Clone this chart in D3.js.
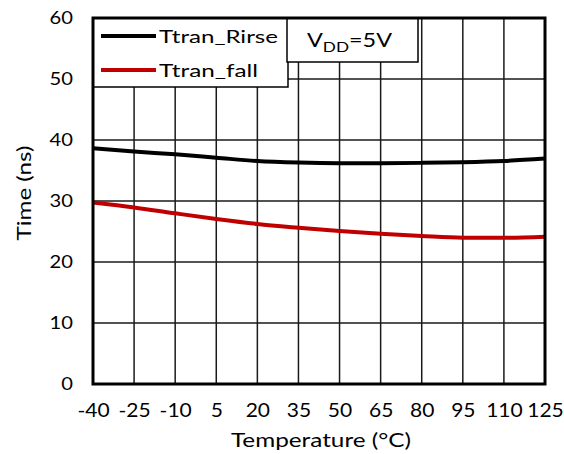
<!DOCTYPE html>
<html><head><meta charset="utf-8">
<script src="https://cdn.jsdelivr.net/npm/d3@7"></script>
<style>body{margin:0;background:#fff}text{font-family:Lato,sans-serif;fill:#000}</style>
</head><body><svg id="c" width="564" height="454"></svg>
<script>
const temps = [-40,-25,-10,5,20,35,50,65,80,95,110,125];
const rise = [38.65,38.1,37.65,37.1,36.55,36.3,36.2,36.2,36.25,36.35,36.55,36.95];
const fall = [29.75,28.95,27.98,27.05,26.23,25.62,25.08,24.64,24.26,23.98,23.98,24.15];
const yTicks = [0,10,20,30,40,50,60];
const seriesNames = ["Ttran_Rirse","Ttran_fall"];
const colors = ["#000000","#c00000"];

const svg = d3.select("#c");
const L=93,R=545,T=18,B=384;
const x = d3.scaleLinear().domain([-40,125]).range([L,R]);
const y = d3.scaleLinear().domain([0,60]).range([B,T]);
const FW = 400;

function stretch(sel, k){
  sel.each(function(){
    const w = this.getComputedTextLength();
    d3.select(this).attr("textLength", w*k).attr("lengthAdjust","spacingAndGlyphs");
  });
}
function fitTo(sel, target){
  sel.attr("textLength", target).attr("lengthAdjust","spacingAndGlyphs");
}

// grid
svg.append("g").selectAll("line").data(temps.slice(1,-1)).join("line")
  .attr("x1",d=>x(d)).attr("x2",d=>x(d)).attr("y1",T).attr("y2",B)
  .attr("stroke","#1a1a1a").attr("stroke-width",1.5);
svg.append("g").selectAll("line").data(yTicks.slice(1,-1)).join("line")
  .attr("y1",d=>y(d)).attr("y2",d=>y(d)).attr("x1",L).attr("x2",R)
  .attr("stroke","#1a1a1a").attr("stroke-width",1.5);

// axes labels
const xa = d3.axisBottom(x).tickValues(temps).tickSize(0).tickPadding(19).tickFormat(d=>String(d));
const gx = svg.append("g").attr("transform",`translate(0,${B})`).call(xa);
gx.select(".domain").remove();
gx.selectAll("text").attr("font-family","Lato").attr("font-weight",FW).attr("font-size",20).attr("fill","#000");
stretch(gx.selectAll("text"), 1.05);
const ya = d3.axisLeft(y).tickValues(yTicks).tickSize(0).tickPadding(20).tickFormat(d=>String(d));
const gy = svg.append("g").attr("transform",`translate(${L},0)`).call(ya);
gy.select(".domain").remove();
gy.selectAll("text").attr("font-family","Lato").attr("font-weight",FW).attr("font-size",18).attr("fill","#000");
stretch(gy.selectAll("text"), 1.12);

// lines
const line = d3.line().x((d,i)=>x(temps[i])).y(d=>y(d)).curve(d3.curveMonotoneX);
[rise,fall].forEach((s,i)=>{
  svg.append("path").attr("d",line(s)).attr("fill","none")
    .attr("stroke",colors[i]).attr("stroke-width",4);
});

// legend
svg.append("rect").attr("x",L).attr("y",T).attr("width",195).attr("height",69)
  .attr("fill","#fff").attr("stroke","#000").attr("stroke-width",1.5);
const legW = [119, 99];
seriesNames.forEach((n,i)=>{
  const yy = 36 + i*34;
  svg.append("line").attr("x1",101).attr("x2",156).attr("y1",yy).attr("y2",yy)
    .attr("stroke",colors[i]).attr("stroke-width",4);
  const t = svg.append("text").attr("x",159).attr("y",yy+7).attr("font-size",18).attr("font-weight",FW).text(n);
  fitTo(t, legW[i]);
});
// VDD box
svg.append("rect").attr("x",287).attr("y",T).attr("width",131).attr("height",44)
  .attr("fill","#fff").attr("stroke","#000").attr("stroke-width",1.5);
const vt = svg.append("text").attr("x",307).attr("y",47).attr("font-size",19).attr("font-weight",FW);
vt.append("tspan").text("V");
vt.append("tspan").attr("dy",5).attr("font-size",14).text("DD");
vt.append("tspan").attr("dy",-5).text("=5V");
{
  const w = vt.node().getComputedTextLength();
  vt.attr("transform",`translate(307,0) scale(${85/w},1) translate(-307,0)`);
}
// frame
svg.append("rect").attr("x",L).attr("y",T).attr("width",R-L).attr("height",B-T)
  .attr("fill","none").attr("stroke","#000").attr("stroke-width",3);

// titles
const xt = svg.append("text").attr("x",(L+R)/2+2).attr("y",447).attr("text-anchor","middle")
  .attr("font-size",20).attr("font-weight",FW).text("Temperature (°C)");
fitTo(xt, 180);
const yt = svg.append("text").attr("transform",`translate(31,${(T+B)/2-8}) rotate(-90)`)
  .attr("text-anchor","middle").attr("font-size",20).attr("font-weight",FW).text("Time (ns)");
fitTo(yt, 95);
</script></body></html>
